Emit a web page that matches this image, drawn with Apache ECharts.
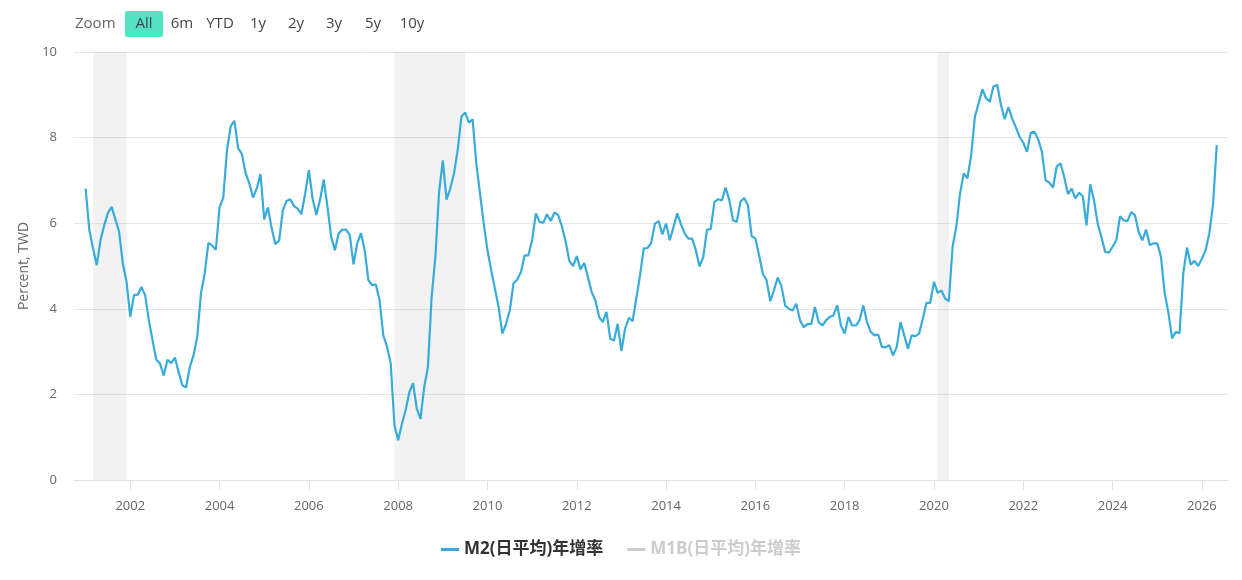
<!DOCTYPE html>
<html>
<head>
<meta charset="utf-8">
<script src="https://cdn.jsdelivr.net/npm/echarts@6/dist/echarts.min.js"></script>
<style>
  html, body { margin: 0; padding: 0; background: #fff; }
  #chart { width: 1242px; height: 580px; }
</style>
</head>
<body>
<div id="chart"></div>
<script>
// ---------------- DATA ----------------
const startYear = 2001; // first monthly observation: Jan 2001
const m2Values = [
  6.81, 5.84, 5.41, 5.02, 5.60, 5.95, 6.24, 6.38, 6.09, 5.80, 5.06, 4.63, // 2001
  3.81, 4.32, 4.33, 4.51, 4.32, 3.73, 3.26, 2.81, 2.72, 2.44, 2.81, 2.73, // 2002
  2.86, 2.52, 2.21, 2.16, 2.64, 2.91, 3.34, 4.36, 4.82, 5.54, 5.48, 5.38, // 2003
  6.37, 6.60, 7.71, 8.27, 8.39, 7.75, 7.62, 7.17, 6.93, 6.60, 6.81, 7.15, // 2004
  6.09, 6.37, 5.88, 5.51, 5.59, 6.30, 6.52, 6.56, 6.40, 6.34, 6.21, 6.69, // 2005
  7.24, 6.58, 6.19, 6.54, 7.02, 6.38, 5.68, 5.37, 5.76, 5.85, 5.85, 5.72, // 2006
  5.04, 5.53, 5.77, 5.37, 4.67, 4.55, 4.57, 4.20, 3.38, 3.12, 2.72, 1.28, // 2007
  0.93, 1.31, 1.63, 2.05, 2.26, 1.67, 1.43, 2.17, 2.64, 4.28, 5.21, 6.73, // 2008
  7.47, 6.55, 6.81, 7.16, 7.71, 8.49, 8.59, 8.35, 8.43, 7.40, 6.69, 5.99, // 2009
  5.37, 4.90, 4.47, 4.04, 3.42, 3.65, 3.96, 4.60, 4.68, 4.86, 5.25, 5.25, // 2010
  5.60, 6.23, 6.03, 6.01, 6.21, 6.05, 6.25, 6.19, 5.93, 5.58, 5.12, 5.00, // 2011
  5.23, 4.92, 5.07, 4.74, 4.39, 4.20, 3.81, 3.69, 3.93, 3.30, 3.26, 3.65, // 2012
  3.01, 3.54, 3.79, 3.71, 4.24, 4.78, 5.41, 5.42, 5.54, 5.99, 6.05, 5.74, // 2013
  5.99, 5.60, 5.91, 6.23, 5.98, 5.76, 5.64, 5.64, 5.37, 4.99, 5.21, 5.85, // 2014
  5.86, 6.50, 6.56, 6.53, 6.83, 6.54, 6.07, 6.03, 6.50, 6.59, 6.42, 5.70, // 2015
  5.64, 5.25, 4.82, 4.67, 4.18, 4.43, 4.73, 4.53, 4.08, 4.00, 3.96, 4.12, // 2016
  3.73, 3.57, 3.64, 3.64, 4.04, 3.69, 3.61, 3.73, 3.81, 3.85, 4.08, 3.61, // 2017
  3.42, 3.81, 3.61, 3.61, 3.73, 4.08, 3.69, 3.46, 3.38, 3.40, 3.11, 3.10, // 2018
  3.15, 2.91, 3.11, 3.69, 3.38, 3.07, 3.38, 3.36, 3.42, 3.77, 4.14, 4.14, // 2019
  4.63, 4.37, 4.43, 4.24, 4.18, 5.45, 5.91, 6.69, 7.16, 7.05, 7.59, 8.49, // 2020
  8.80, 9.13, 8.92, 8.84, 9.20, 9.23, 8.76, 8.43, 8.71, 8.45, 8.24, 8.02, // 2021
  7.88, 7.67, 8.11, 8.14, 7.96, 7.67, 7.00, 6.95, 6.83, 7.33, 7.40, 7.08, // 2022
  6.68, 6.81, 6.58, 6.71, 6.63, 5.95, 6.91, 6.54, 5.99, 5.68, 5.33, 5.31, // 2023
  5.45, 5.60, 6.16, 6.07, 6.05, 6.26, 6.19, 5.80, 5.60, 5.85, 5.49, 5.53, // 2024
  5.53, 5.22, 4.37, 3.91, 3.31, 3.46, 3.43, 4.82, 5.43, 5.03, 5.12, 5.00, // 2025
  5.17, 5.37, 5.76, 6.44, 7.82                                            // 2026
];
const m1bValues = []; // hidden series (legend item greyed out)
const seriesNames = ['M2(日平均)年增率', 'M1B(日平均)年增率'];
const shadedBands = [
  ['2001-03', '2001-12'],
  ['2007-12', '2009-07'],
  ['2020-02', '2020-05']
];
const xTickYears = [2002, 2004, 2006, 2008, 2010, 2012, 2014, 2016, 2018, 2020, 2022, 2024, 2026];
const yAxisTitle = 'Percent, TWD';
const rangeButtons = ['All', '6m', 'YTD', '1y', '2y', '3y', '5y', '10y'];
const zoomLabel = 'Zoom';

// ---------------- BUILD ----------------
// x positions are expressed in fractional years (month index / 12)
function monthToYear(s) {
  const p = s.split('-').map(Number);
  return p[0] + (p[1] - 1) / 12;
}
const m2Data = m2Values.map((v, i) => [startYear + i / 12, v]);
const bandData = shadedBands.map(b => [{ xAxis: monthToYear(b[0]) }, { xAxis: monthToYear(b[1]) }]);

const FONT = '"Open Sans", "Noto Sans CJK TC", sans-serif';
const LINE_COLOR = '#38abdb';

const btnCenters = [144, 182, 220, 258, 296, 334, 373, 412];
const graphic = [
  { type: 'text', x: 75, y: 24, style: { text: zoomLabel, fill: '#666', fontSize: 15, fontFamily: FONT, align: 'left', verticalAlign: 'middle' } },
  { type: 'rect', shape: { x: 125, y: 11, width: 38, height: 26, r: 2 }, style: { fill: '#51e3c3' } }
];
rangeButtons.forEach((b, i) => {
  graphic.push({ type: 'text', x: btnCenters[i], y: 24,
    style: { text: b, fill: '#444', fontSize: 15, fontFamily: FONT, align: 'center', verticalAlign: 'middle' } });
});

const chart = echarts.init(document.getElementById('chart'), null, { renderer: 'canvas' });
chart.setOption({
  animation: false,
  backgroundColor: '#ffffff',
  textStyle: { fontFamily: FONT },
  grid: { left: 74, right: 14, top: 52, bottom: 100, containLabel: false },
  graphic: graphic,
  legend: {
    data: seriesNames,
    left: 'center',
    top: 536,
    icon: 'rect',
    itemWidth: 18,
    itemHeight: 3,
    itemGap: 24,
    selected: { [seriesNames[1]]: false },
    inactiveColor: '#cccccc',
    textStyle: { color: '#333', fontSize: 17, fontWeight: 'bold', fontFamily: FONT }
  },
  xAxis: {
    type: 'value',
    min: 2000.74,
    max: 2026.585,
    axisLine: { show: true, lineStyle: { color: '#e0e0e0', width: 1 } },
    axisTick: { show: true, length: 10, customValues: xTickYears, lineStyle: { color: '#e0e0e0' } },
    axisLabel: {
      customValues: xTickYears,
      formatter: v => String(Math.round(v)),
      color: '#666', fontSize: 13, margin: 20, fontFamily: FONT
    },
    splitLine: { show: false }
  },
  yAxis: {
    type: 'value',
    min: 0, max: 10, interval: 2,
    name: yAxisTitle,
    nameLocation: 'middle',
    nameGap: 43,
    nameTextStyle: { color: '#666', fontSize: 14, fontFamily: FONT },
    axisLine: { show: false },
    axisTick: { show: false },
    axisLabel: { color: '#666', fontSize: 13, margin: 17, fontFamily: FONT },
    splitLine: { show: true, lineStyle: { color: '#e6e6e6', width: 1 } }
  },
  series: [
    {
      name: seriesNames[0],
      type: 'line',
      data: m2Data,
      showSymbol: false,
      symbol: 'none',
      lineStyle: { color: LINE_COLOR, width: 2.2 },
      itemStyle: { color: LINE_COLOR },
      markArea: {
        silent: true,
        itemStyle: { color: 'rgba(0,0,0,0.05)' },
        data: bandData
      }
    },
    {
      name: seriesNames[1],
      type: 'line',
      data: m1bValues,
      showSymbol: false,
      lineStyle: { color: '#9a9a9a', width: 2 },
      itemStyle: { color: '#9a9a9a' }
    }
  ]
});
</script>
</body>
</html>
